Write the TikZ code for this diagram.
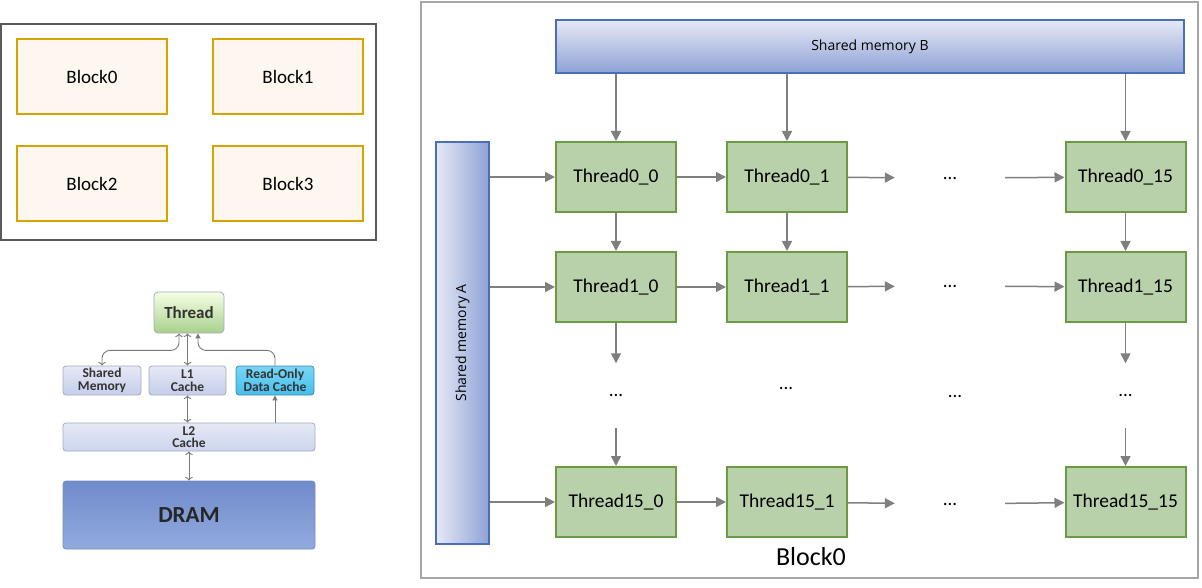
\documentclass[tikz,border=0pt]{standalone}
\usepackage{fontspec}
\setmainfont{Carlito}
\newfontfamily\memfont{Open Sans}
\usepackage{tikz}
\usetikzlibrary{arrows.meta,positioning}
\usetikzlibrary{calc}

\definecolor{frameA}{HTML}{595959}
\definecolor{frameB}{HTML}{A6A6A6}
\definecolor{blockline}{HTML}{D6A300}
\definecolor{blockfill}{HTML}{FEF7F0}
\definecolor{thrfill}{HTML}{B8D1AA}
\definecolor{thrline}{HTML}{6A9B42}
\definecolor{memline}{HTML}{4A6EB8}
\definecolor{memlight}{HTML}{E6E9F5}
\definecolor{memdark}{HTML}{8EA2D6}
\definecolor{arrgray}{HTML}{7F7F7F}
\definecolor{hline}{HTML}{A3ABC2}
\definecolor{htext}{HTML}{333333}
\definecolor{harrgray}{HTML}{7A7A7A}

\begin{document}
\begin{tikzpicture}[
  x=1pt, y=-1pt,
  node distance=38pt and 49pt,
  frame/.style={draw, line width=2pt, inner sep=0pt},
  blk/.style={draw=blockline, fill=blockfill, line width=2pt, minimum width=150pt, minimum height=75pt, inner sep=0pt, font=\fontsize{19}{22}\selectfont},
  thr/.style={draw=thrline, fill=thrfill, line width=2pt, minimum width=120pt, minimum height=70pt, inner sep=0pt, font=\fontsize{19.5}{22}\selectfont},
  gap/.style={minimum width=110pt, minimum height=64pt, inner sep=0pt, font=\fontsize{19}{22}\selectfont},
  smem/.style={draw=memline, line width=1.5pt, inner sep=0pt},
  memtext/.style={font=\memfont\fontsize{14}{16}\selectfont},
  arr/.style={-{Triangle[length=10pt,width=10pt]}, draw=arrgray, fill=arrgray, line width=1.5pt},
  hbox/.style={draw=hline, line width=0.8pt, rounded corners=3pt, inner sep=0pt, align=center, text=htext, font=\bfseries\fontsize{13.5}{12.5}\selectfont},
  harr/.style={draw=harrgray, line width=0.9pt, -{Triangle[length=5pt,width=5pt]}}
]
\useasboundingbox (0,0) rectangle (1202,588);

% grid of blocks
\node[frame, draw=frameA, minimum width=375pt, minimum height=216pt] (grid) at (188.5,132) {};
\node[blk] (b0) at (92,76.5) {Block0};
\node[blk, right=44pt of b0] (b1) {Block1};
\node[blk, below=30pt of b0] (b2) {Block2};
\node[blk, right=44pt of b2] (b3) {Block3};

% memory hierarchy
\node[hbox, rounded corners=4pt, top color=green!15!lime!10, bottom color={rgb,255:red,168;green,208;blue,140}, minimum width=70pt, minimum height=41pt, font=\bfseries\fontsize{17}{20}\selectfont] (hThread) at (189,312.5) {Thread};
\node[hbox, top color=memlight, bottom color={rgb,255:red,196;green,205;blue,234}, minimum width=78pt, minimum height=29pt] (hShM) at (102,380.5) {Shared\\Memory};
\node[hbox, top color=memlight, bottom color={rgb,255:red,196;green,205;blue,234}, minimum width=77pt, minimum height=29pt] (hL1) at (187.5,380.5) {L1\\Cache};
\node[hbox, draw={rgb,255:red,60;green,140;blue,180}, top color={rgb,255:red,120;green,214;blue,245}, bottom color={rgb,255:red,70;green,190;blue,235}, minimum width=78pt, minimum height=29pt] (hRO) at (275,380.5) {Read-Only\\Data Cache};
\node[hbox, top color=memlight, bottom color={rgb,255:red,205;green,213;blue,238}, minimum width=252pt, minimum height=28pt] (hL2) at (189,437) {L2\\Cache};
\node[hbox, draw={rgb,255:red,120;green,140;blue,190}, top color={rgb,255:red,112;green,139;blue,203}, bottom color={rgb,255:red,146;green,170;blue,222}, minimum width=252pt, minimum height=68pt, font=\bfseries\fontsize{23}{26}\selectfont, text=black!85] (hDRAM) at (189,515) {DRAM};

\draw[harr, <->] (hL1.north) -- (hL1.north |- hThread.south);
\draw[harr, <->] (hL1.south) -- (hL1.south |- hL2.north);
\draw[harr, <->] (hL2.south) -- (hDRAM.north);
\draw[harr] (hL2.north -| hRO) -- (hRO.south);
\draw[harr, rounded corners=8pt] (hRO.north) |- ([xshift=9pt, yshift=-17pt]hThread.south) -- ([xshift=9pt]hThread.south);
\draw[harr, <->, rounded corners=8pt] (hShM.north) |- ([xshift=-10pt, yshift=-17pt]hThread.south) -- ([xshift=-10pt]hThread.south);

% Block0 in detail
\node[frame, draw=frameB, minimum width=777pt, minimum height=576pt] (blockA) at (809.5,290) {};
\node[smem, top color=memlight, bottom color=memdark, minimum width=628pt, minimum height=53pt, memtext] (smB) at (870,46.5) {Shared memory B};
\node[smem, left color=memlight, right color=memdark, minimum width=53pt, minimum height=402pt] (smA) at (462.5,343) {};
\node[memtext, rotate=90] (smAtext) at (smA) {Shared memory A};

\node[thr] (T00) at (616,177) {Thread0\_0};
\node[thr, right=of T00] (T01) {Thread0\_1};
\node[thr] (T015) at (1125.5,177) {Thread0\_15};
\node[gap] (g02) at (950,178) {...};

\node[thr, below=of T00] (T10) {Thread1\_0};
\node[thr, below=of T01] (T11) {Thread1\_1};
\node[thr, below=of T015] (T115) {Thread1\_15};
\node[gap] (g12) at (950,286) {...};

\node[gap] (g20) at (616,395.5) {...};
\node[gap] (g21) at (786,388) {...};
\node[gap] (g22) at (955,396) {...};
\node[gap] (g215) at (1125.5,395.5) {...};

\node[thr] (T150) at (616,502) {Thread15\_0};
\node[thr, right=of T150] (T151) {Thread15\_1};
\node[thr] (T1515) at (1125.5,502) {Thread15\_15};
\node[gap] (g152) at (950,504) {...};

\node[font=\fontsize{26}{30}\selectfont] (title) at (811,557) {Block0};

\draw[arr] (smB.south -| T00) -- (T00);
\draw[arr] (smB.south -| T01) -- (T01);
\draw[arr] (smB.south -| T015) -- (T015);

\draw[arr] (smA.east |- T00) -- (T00);
\draw[arr] (smA.east |- T10) -- (T10);
\draw[arr] (smA.east |- T150) -- (T150);

\draw[arr] (T00) -- (T01);
\draw[arr] (T01) -- (g02);
\draw[arr] (g02) -- (T015);
\draw[arr] (T10) -- (T11);
\draw[arr] (T11) -- (g12);
\draw[arr] (g12) -- (T115);
\draw[arr] (T150) -- (T151);
\draw[arr] (T151) -- (g152);
\draw[arr] (g152) -- (T1515);

\draw[arr] (T00) -- (T10);
\draw[arr] (T01) -- (T11);
\draw[arr] (T015) -- (T115);
\draw[arr] (T10) -- (g20);
\draw[arr] (g20) -- (T150);
\draw[arr] (T115) -- (g215);
\draw[arr] (g215) -- (T1515);
\end{tikzpicture}
\end{document}
